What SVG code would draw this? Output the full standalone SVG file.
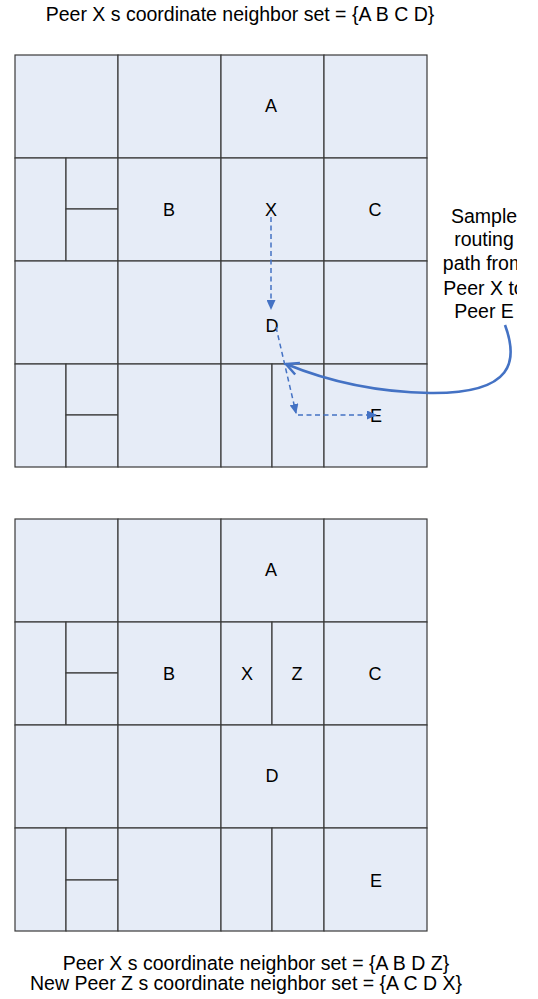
<svg xmlns="http://www.w3.org/2000/svg" width="538" height="999" viewBox="0 0 538 999">
<style>
.c{fill:#e6ecf7;stroke:#3a3a3a;stroke-width:1.2}
text{font-family:"Liberation Sans",Arial,sans-serif;font-size:18px;fill:#000}
.l{text-anchor:middle}
.t{font-size:19.5px}
.d{fill:none;stroke:#4472c4;stroke-width:1.5;stroke-dasharray:5 3.5}
.s{fill:none;stroke:#4472c4;stroke-width:2.6}
</style>
<defs>
<marker id="ah" viewBox="0 0 10 10" refX="9" refY="5" markerWidth="10" markerHeight="9" orient="auto" markerUnits="userSpaceOnUse" preserveAspectRatio="none"><path d="M0,0 L10,5 L0,10 z" fill="#4472c4"/></marker>
<marker id="oh" viewBox="0 0 12 12" refX="11" refY="6" markerWidth="15" markerHeight="15" orient="auto" markerUnits="userSpaceOnUse"><path d="M1,1 L11,6 L1,11" fill="none" stroke="#4472c4" stroke-width="2"/></marker>
<clipPath id="lc"><rect x="400" y="190" width="117" height="140"/></clipPath>
</defs>
<text x="240" y="21" class="l t">Peer X s coordinate neighbor set = {A B C D}</text>
<g id="top-grid">
<g id="t11"><rect class="c" x="15" y="55" width="103" height="103"/></g>
<g id="t12"><rect class="c" x="118" y="55" width="103" height="103"/></g>
<g id="tA"><rect class="c" x="221" y="55" width="103" height="103"/><text x="271" y="112" class="l">A</text></g>
<g id="t14"><rect class="c" x="324" y="55" width="103" height="103"/></g>
<g id="t21a"><rect class="c" x="15" y="158" width="51" height="103"/></g>
<g id="t21b"><rect class="c" x="66" y="158" width="52" height="51"/></g>
<g id="t21c"><rect class="c" x="66" y="209" width="52" height="52"/></g>
<g id="tB"><rect class="c" x="118" y="158" width="103" height="103"/><text x="169" y="216" class="l">B</text></g>
<g id="tX"><rect class="c" x="221" y="158" width="103" height="103"/><text x="271" y="216" class="l">X</text></g>
<g id="tC"><rect class="c" x="324" y="158" width="103" height="103"/><text x="375" y="216" class="l">C</text></g>
<g id="t31"><rect class="c" x="15" y="261" width="103" height="103"/></g>
<g id="t32"><rect class="c" x="118" y="261" width="103" height="103"/></g>
<g id="tD"><rect class="c" x="221" y="261" width="103" height="103"/><text x="272" y="332" class="l">D</text></g>
<g id="t34"><rect class="c" x="324" y="261" width="103" height="103"/></g>
<g id="t41a"><rect class="c" x="15" y="364" width="51" height="103"/></g>
<g id="t41b"><rect class="c" x="66" y="364" width="52" height="51"/></g>
<g id="t41c"><rect class="c" x="66" y="415" width="52" height="52"/></g>
<g id="t42"><rect class="c" x="118" y="364" width="103" height="103"/></g>
<g id="t43a"><rect class="c" x="221" y="364" width="51" height="103"/></g>
<g id="t43b"><rect class="c" x="272" y="364" width="52" height="103"/></g>
<g id="tE"><rect class="c" x="324" y="364" width="103" height="103"/><text x="376" y="422" class="l">E</text></g>
</g>
<g id="bottom-grid">
<g id="b11"><rect class="c" x="15" y="519" width="103" height="103"/></g>
<g id="b12"><rect class="c" x="118" y="519" width="103" height="103"/></g>
<g id="bA"><rect class="c" x="221" y="519" width="103" height="103"/><text x="271" y="576" class="l">A</text></g>
<g id="b14"><rect class="c" x="324" y="519" width="103" height="103"/></g>
<g id="b21a"><rect class="c" x="15" y="622" width="51" height="103"/></g>
<g id="b21b"><rect class="c" x="66" y="622" width="52" height="51"/></g>
<g id="b21c"><rect class="c" x="66" y="673" width="52" height="52"/></g>
<g id="bB"><rect class="c" x="118" y="622" width="103" height="103"/><text x="169" y="680" class="l">B</text></g>
<g id="bX"><rect class="c" x="221" y="622" width="51" height="103"/><text x="247" y="680" class="l">X</text></g>
<g id="bZ"><rect class="c" x="272" y="622" width="52" height="103"/><text x="297" y="680" class="l">Z</text></g>
<g id="bC"><rect class="c" x="324" y="622" width="103" height="103"/><text x="375" y="680" class="l">C</text></g>
<g id="b31"><rect class="c" x="15" y="725" width="103" height="103"/></g>
<g id="b32"><rect class="c" x="118" y="725" width="103" height="103"/></g>
<g id="bD"><rect class="c" x="221" y="725" width="103" height="103"/><text x="272" y="782" class="l">D</text></g>
<g id="b34"><rect class="c" x="324" y="725" width="103" height="103"/></g>
<g id="b41a"><rect class="c" x="15" y="828" width="51" height="103"/></g>
<g id="b41b"><rect class="c" x="66" y="828" width="52" height="52"/></g>
<g id="b41c"><rect class="c" x="66" y="880" width="52" height="51"/></g>
<g id="b42"><rect class="c" x="118" y="828" width="103" height="103"/></g>
<g id="b43a"><rect class="c" x="221" y="828" width="51" height="103"/></g>
<g id="b43b"><rect class="c" x="272" y="828" width="52" height="103"/></g>
<g id="bE"><rect class="c" x="324" y="828" width="103" height="103"/><text x="376" y="887" class="l">E</text></g>
</g>
<g id="label" clip-path="url(#lc)">
<text x="484" y="223" class="l t">Sample</text>
<text x="484" y="246" class="l t">routing</text>
<text x="484" y="270" class="l t">path from</text>
<text x="484" y="295" class="l t">Peer X to</text>
<text x="484" y="318" class="l t">Peer E</text>
</g>
<g id="connectors">
<path class="d" d="M271,217 L271,309" marker-end="url(#ah)"/>
<path class="d" d="M276,327 L296,413" marker-end="url(#ah)"/>
<path class="d" d="M298,415 L376,415" marker-end="url(#ah)"/>
<path class="s" d="M505,325 C518,360 515,394 430,393 C370,392 320,378 286,364" marker-end="url(#oh)"/>
</g>
<text x="256" y="970" class="l t">Peer X s coordinate neighbor set = {A B D Z}</text>
<text x="246" y="990" class="l t">New Peer Z s coordinate neighbor set = {A C D X}</text>
</svg>
